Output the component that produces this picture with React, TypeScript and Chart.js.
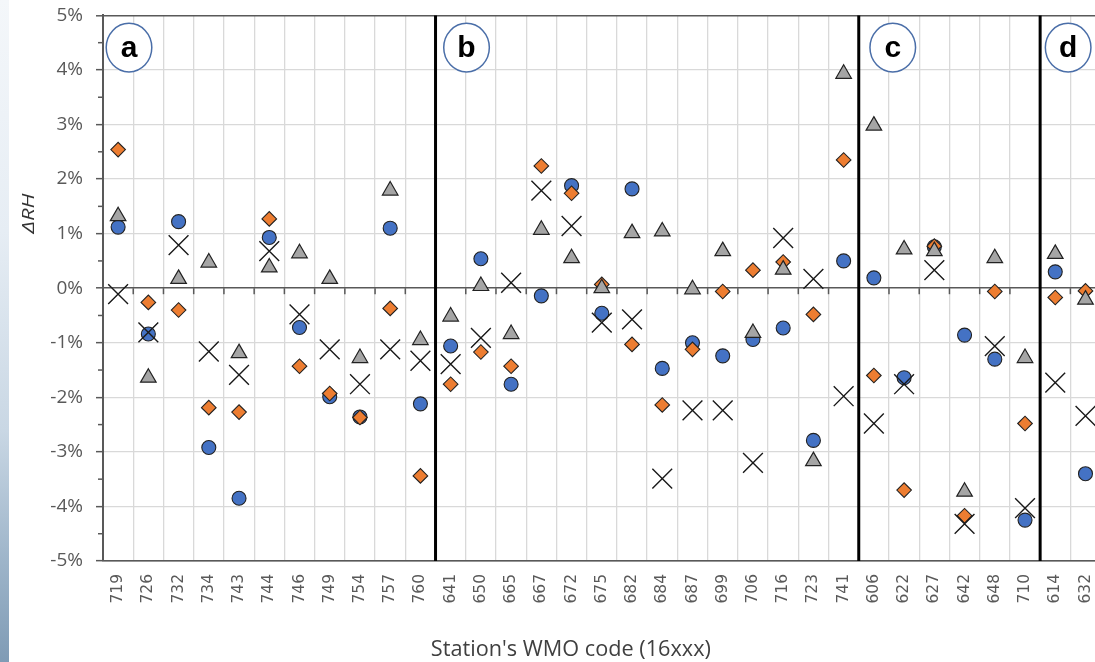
import React, { useEffect, useRef } from 'react';
import { Chart, registerables } from 'chart.js';

Chart.register(...registerables);

// ---------- data ----------
const stations = [
  '719', '726', '732', '734', '743', '744', '746', '749', '754', '757', '760',
  '641', '650', '665', '667', '672', '675', '682', '684', '687', '699', '706', '716', '723', '741',
  '606', '622', '627', '642', '648', '710',
  '614', '632',
];

// blue circles
const seriesCircle = [
  1.12, -0.84, 1.22, -2.92, -3.85, 0.93, -0.72, -1.99, -2.36, 1.10, -2.12,
  -1.06, 0.54, -1.76, -0.14, 1.88, -0.46, 1.82, -1.47, -1.00, -1.24, -0.94, -0.73, -2.79, 0.50,
  0.19, -1.64, 0.76, -0.86, -1.30, -4.25,
  0.30, -3.40,
];

// orange diamonds
const seriesDiamond = [
  2.54, -0.26, -0.40, -2.19, -2.27, 1.27, -1.43, -1.93, -2.37, -0.37, -3.44,
  -1.76, -1.17, -1.43, 2.24, 1.74, 0.07, -1.03, -2.14, -1.12, -0.06, 0.33, 0.48, -0.48, 2.35,
  -1.60, -3.70, 0.77, -4.17, -0.06, -2.48,
  -0.17, -0.05,
];

// grey triangles
const seriesTriangle = [
  1.32, -1.64, 0.17, 0.47, -1.19, 0.38, 0.64, 0.17, -1.28, 1.79, -0.95,
  -0.52, 0.04, -0.84, 1.07, 0.55, 0.00, 1.01, 1.04, -0.02, 0.68, -0.82, 0.34, -3.17, 3.93,
  2.98, 0.71, 0.68, -3.73, 0.55, -1.28,
  0.63, -0.21,
];

// black crosses
const seriesCross = [
  -0.11, -0.81, 0.79, -1.16, -1.59, 0.68, -0.48, -1.12, -1.76, -1.12, -1.33,
  -1.39, -0.91, 0.10, 1.79, 1.14, -0.63, -0.57, -3.49, -2.24, -2.24, -3.20, 0.92, 0.17, -1.98,
  -2.48, -1.76, 0.33, -4.32, -1.06, -4.03,
  -1.73, -2.34,
];

// panels: first category index of each panel and its letter
const panelStarts = [0, 11, 25, 31];
const panelLetters = ['a', 'b', 'c', 'd'];

const yMin = -5;
const yMax = 5;
const yStep = 1;

const xTitle = "Station's WMO code (16xxx)";
const yTitle = 'ΔRH';

// ---------- styles ----------
const FONT = "'Open Sans', 'Liberation Sans', sans-serif";
const AXIS_GREY = '#595959';
const GRID_GREY = '#d9d9d9';
const panelLabelOffsets = [26, 31, 34, 28];

const overlayPlugin = {
  id: 'overlay',
  beforeDatasetsDraw(chart: any) {
    const { ctx, chartArea: a, scales } = chart;
    const x = scales.x;
    const y = scales.y;
    const half = (x.getPixelForValue(1) - x.getPixelForValue(0)) / 2;
    const line = (x1: number, y1: number, x2: number, y2: number) => {
      ctx.beginPath();
      ctx.moveTo(x1, y1);
      ctx.lineTo(x2, y2);
      ctx.stroke();
    };
    ctx.save();
    // minor y ticks
    ctx.strokeStyle = AXIS_GREY;
    ctx.lineWidth = 1.5;
    for (let v = yMin + yStep / 2; v < yMax; v += yStep) {
      const py = y.getPixelForValue(v);
      line(a.left - 5, py, a.left, py);
    }
    // tick marks on the zero line
    const y0 = y.getPixelForValue(0);
    for (let i = 1; i < stations.length; i++) {
      const px = x.getPixelForValue(i) - half;
      line(px, y0, px, y0 + 6);
    }
    // panel dividers
    ctx.strokeStyle = '#000';
    ctx.lineWidth = 3;
    for (let k = 1; k < panelStarts.length; k++) {
      const px = x.getPixelForValue(panelStarts[k]) - half;
      line(px, a.top, px, a.bottom);
    }
    // panel letters
    const cy = y.getPixelForValue(4.41);
    for (let k = 0; k < panelStarts.length; k++) {
      const edge = x.getPixelForValue(panelStarts[k]) - half;
      const cx = edge + panelLabelOffsets[k];
      ctx.beginPath();
      ctx.ellipse(cx, cy, 22.8, 24.3, 0, 0, Math.PI * 2);
      ctx.fillStyle = '#fff';
      ctx.fill();
      ctx.strokeStyle = '#4a6ea8';
      ctx.lineWidth = 1.5;
      ctx.stroke();
      ctx.fillStyle = '#000';
      ctx.font = "bold 30px 'Liberation Sans', Arial, sans-serif";
      ctx.textAlign = 'center';
      ctx.textBaseline = 'middle';
      ctx.fillText(panelLetters[k], cx, cy + 1);
    }
    ctx.restore();
  },
  afterDraw(chart: any) {
    const { ctx, chartArea: a } = chart;
    ctx.save();
    // x title
    ctx.font = `19px ${FONT}`;
    ctx.fillStyle = '#404040';
    ctx.textAlign = 'center';
    ctx.textBaseline = 'middle';
    const w = ctx.measureText(xTitle).width;
    const sx = 280 / w;
    ctx.translate(a.left + (a.right - a.left) * 0.469, chart.height - 12);
    ctx.scale(sx, 1.1);
    ctx.fillText(xTitle, 0, 0);
    ctx.restore();

    // y title
    ctx.save();
    ctx.font = `italic 17px ${FONT}`;
    ctx.fillStyle = '#333';
    ctx.textAlign = 'center';
    ctx.textBaseline = 'middle';
    ctx.translate(29, a.top + (a.bottom - a.top) * 0.363);
    ctx.rotate(-Math.PI / 2);
    ctx.scale(1.3, 1);
    ctx.fillText(yTitle, 0, 0);
    ctx.restore();
  },
};

export default function App() {
  const ref = useRef<HTMLCanvasElement>(null);
  useEffect(() => {
    document.body.style.margin = '0';
    document.body.style.overflow = 'hidden';
    const pointBorder = '#222';
    const chart = new Chart(ref.current as HTMLCanvasElement, {
      type: 'line',
      data: {
        labels: stations,
        datasets: [
          {
            label: 'cross',
            data: seriesCross,
            showLine: false,
            pointStyle: 'crossRot',
            pointRadius: 14,
            pointBorderColor: '#1a1a1a',
            pointBackgroundColor: '#1a1a1a',
            pointBorderWidth: 1.4,
          },
          {
            label: 'triangle',
            data: seriesTriangle,
            showLine: false,
            pointStyle: 'triangle',
            pointRadius: 9,
            pointBorderColor: pointBorder,
            pointBackgroundColor: '#A5A5A5',
            pointBorderWidth: 1.2,
          },
          {
            label: 'diamond',
            data: seriesDiamond,
            showLine: false,
            pointStyle: 'rectRot',
            pointRadius: 7.3,
            pointBorderColor: pointBorder,
            pointBackgroundColor: '#ED7D31',
            pointBorderWidth: 1.1,
          },
          {
            label: 'circle',
            data: seriesCircle,
            showLine: false,
            pointStyle: 'circle',
            pointRadius: 7,
            pointBorderColor: pointBorder,
            pointBackgroundColor: '#4472C4',
            pointBorderWidth: 1.1,
          },
        ],
      },
      options: {
        responsive: false,
        animation: false,
        devicePixelRatio: 1,
        layout: { padding: { top: 15, right: 10.4, left: 0, bottom: 0 } },
        plugins: {
          legend: { display: false },
          tooltip: { enabled: false },
        },
        scales: {
          x: {
            type: 'category',
            offset: true,
            grid: { offset: true, color: GRID_GREY, lineWidth: 1.3, drawTicks: false },
            border: { display: true, color: AXIS_GREY, width: 1.5 },
            ticks: {
              autoSkip: false,
              maxRotation: 90,
              minRotation: 90,
              padding: 13,
              color: AXIS_GREY,
              font: { family: "'DejaVu Sans', sans-serif", size: 15.5 },
            },
            afterFit: (s: any) => {
              s.height = 101;
              s.paddingLeft = 0;
              s.paddingRight = 0;
            },
          },
          y: {
            min: yMin,
            max: yMax,
            ticks: {
              stepSize: yStep,
              padding: 13,
              color: AXIS_GREY,
              font: { family: FONT, size: 19 },
              callback: (v: any) => `${v}%`,
            },
            grid: {
              color: (c: any) => {
                const v = c.tick ? c.tick.value : null;
                return v === 0 || v === yMax || v === yMin ? AXIS_GREY : GRID_GREY;
              },
              lineWidth: (c: any) => {
                const v = c.tick ? c.tick.value : null;
                return v === 0 || v === yMax ? 1.6 : 1.3;
              },
              tickLength: 7,
              tickColor: AXIS_GREY,
              tickWidth: 1.5,
            },
            border: { display: true, color: AXIS_GREY, width: 2 },
            afterFit: (s: any) => {
              s.width = 103;
              s.paddingTop = 0;
              s.paddingBottom = 0;
            },
          },
        },
      } as any,
      plugins: [overlayPlugin],
    } as any);
    return () => chart.destroy();
  }, []);

  return (
    <div
      style={{
        position: 'fixed',
        left: 0,
        top: 0,
        width: 1095,
        height: 662,
        overflow: 'hidden',
        background: '#fff',
      }}
    >
      <div
        style={{
          position: 'absolute',
          left: 0,
          top: 0,
          width: 9,
          height: 662,
          background:
            'linear-gradient(to bottom, #f4f7fa 0%, #e6edf4 35%, #c9d7e4 65%, #9db4c9 85%, #7f9bb5 100%)',
        }}
      />
      <canvas
        ref={ref}
        width={1116}
        height={662}
        style={{ position: 'absolute', left: 0, top: 0, width: 1116, height: 662 }}
      />
    </div>
  );
}
